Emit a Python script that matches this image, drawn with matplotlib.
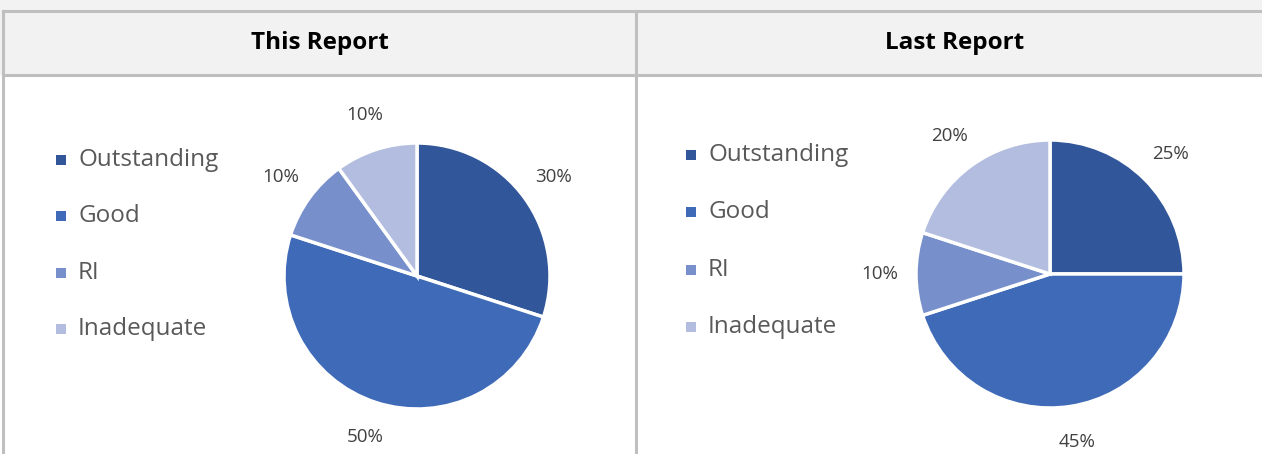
import matplotlib.pyplot as plt
from matplotlib.patches import Rectangle
from matplotlib.lines import Line2D

W, H = 1262, 454

categories = ['Outstanding', 'Good', 'RI', 'Inadequate']
this_report = [30, 50, 10, 10]
last_report = [25, 45, 10, 20]
titles = ['This Report', 'Last Report']
colors = ['#31569a', '#3e6ab8', '#7790cc', '#b2bddf']

plt.rcParams['font.family'] = ['Open Sans', 'DejaVu Sans']

fig = plt.figure(figsize=(W / 100, H / 100), dpi=100)
fig.patch.set_facecolor('white')


def px(x, y):
    # pixel coords (top-left origin) -> figure fraction
    return x / W, 1 - y / H


# table background: grey strip + header row
fig.patches.append(Rectangle(px(0, 75), 1, 75 / H, transform=fig.transFigure,
                             facecolor='#f2f2f2', edgecolor='none', zorder=0))
grid = '#bfbfbf'
for y in [11, 75]:
    fig.add_artist(Line2D([px(3, y)[0], 1], [px(0, y)[1]] * 2, color=grid, lw=2.2,
                          transform=fig.transFigure))
for x in [3, 636]:
    fig.add_artist(Line2D([px(x, 0)[0]] * 2, [px(0, 11)[1], 0], color=grid, lw=2.2,
                          transform=fig.transFigure))

for title, cx in zip(titles, [320, 955]):
    fig.text(*px(cx, 43), title, ha='center', va='center', fontsize=17.5,
             fontweight='bold', color='black', family=['Open Sans', 'DejaVu Sans'])

panels = [
    (this_report, 417, 276, 133, 61, [160, 216, 273, 329]),
    (last_report, 1050, 274, 134, 691, [155, 212, 270, 327]),
]

for values, cx, cy, r, lx, ly in panels:
    x0, y0 = px(cx - r, cy + r)
    ax = fig.add_axes([x0, y0, 2 * r / W, 2 * r / H])
    ax.pie(values, colors=colors, startangle=90, counterclock=False,
           autopct='%d%%', pctdistance=1.27, radius=1,
           wedgeprops=dict(edgecolor='white', linewidth=2.5),
           textprops=dict(fontsize=13.5, color='#404040'))
    ax.set_xlim(-1, 1)
    ax.set_ylim(-1, 1)
    ax.set_aspect('equal')
    ax.axis('off')

    # legend entries
    for cat, col, yy in zip(categories, colors, ly):
        sx, sy = px(lx - 5, yy + 5)
        fig.patches.append(Rectangle((sx, sy), 10 / W, 10 / H, transform=fig.transFigure,
                                     facecolor=col, edgecolor='none'))
        fig.text(*px(lx + 17, yy), cat, ha='left', va='center', fontsize=17.5,
                 color='#595959')

fig.savefig('out.png', dpi=100)
